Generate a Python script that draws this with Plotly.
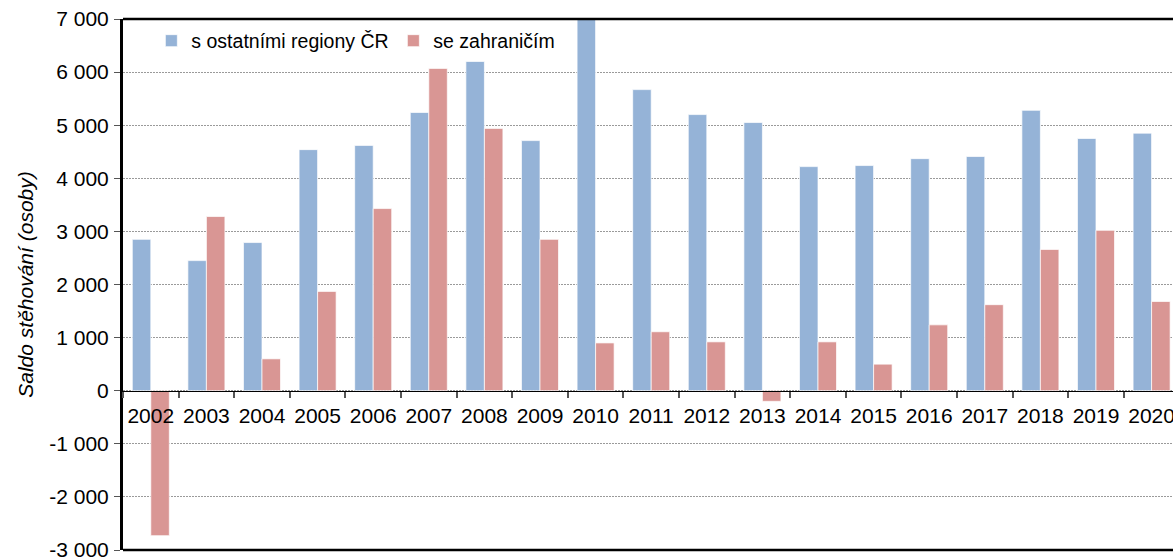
import plotly.graph_objects as go

years = ["2002", "2003", "2004", "2005", "2006", "2007", "2008", "2009", "2010", "2011",
         "2012", "2013", "2014", "2015", "2016", "2017", "2018", "2019", "2020"]
regions = [2850, 2450, 2790, 4540, 4620, 5240, 6200, 4710, 7050, 5670,
           5200, 5050, 4220, 4240, 4370, 4410, 5280, 4750, 4850]
abroad = [-2730, 3280, 600, 1870, 3430, 6070, 4940, 2850, 900, 1110,
          920, -200, 920, 500, 1240, 1620, 2660, 3020, 1680]
ytick_vals = [7000, 6000, 5000, 4000, 3000, 2000, 1000, 0, -1000, -2000, -3000]
ytick_text = ["7 000", "6 000", "5 000", "4 000", "3 000", "2 000", "1 000", "0",
              "-1 000", "-2 000", "-3 000"]

FONT = "Liberation Sans, Arial, sans-serif"

fig = go.Figure()
fig.add_trace(go.Bar(x=years, y=regions, name="s ostatními regiony ČR",
                     marker=dict(color="#95B3D7", line=dict(color="rgba(255,255,255,0.7)", width=1))))
fig.add_trace(go.Bar(x=years, y=abroad, name="se zahraničím",
                     marker=dict(color="#D99694", line=dict(color="rgba(255,255,255,0.7)", width=1))))

fig.update_layout(
    width=1173, height=558, autosize=False,
    margin=dict(l=123, r=0, t=19, b=8, pad=0),
    paper_bgcolor="white", plot_bgcolor="white",
    font=dict(family=FONT, size=21, color="black"),
    barmode="group", bargap=0.334, bargroupgap=0,
    showlegend=True,
    legend=dict(orientation="h", x=0.027, y=0.9586, xanchor="left", yanchor="middle",
                font=dict(size=19.5), bgcolor="rgba(0,0,0,0)", entrywidth=197,
                itemwidth=30, traceorder="normal"),
    xaxis=dict(type="category", range=[-0.5, 18.385], anchor="free", position=0.3,
               showline=True, linecolor="black", linewidth=1, automargin=False,
               ticks="outside", tickson="boundaries", ticklen=6, tickcolor="#555", tickwidth=1.5,
               showgrid=False, tickfont=dict(size=21), ticklabelstandoff=6, tickangle=0,
               ticklabeloverflow="allow"),
    yaxis=dict(range=[-3000, 7000], domain=[0, 1], tickvals=ytick_vals, ticktext=ytick_text,
               showline=True, linecolor="black", linewidth=3, automargin=False,
               ticks="outside", ticklen=6, tickcolor="#555", tickwidth=1,
               showgrid=True, gridcolor="#9a9a9a", gridwidth=1, griddash="2px,1px",
               zeroline=False, tickfont=dict(size=21), ticklabelstandoff=1,
               ticklabeloverflow="allow",
               title=dict(text="<i>Saldo stěhování (osoby)</i>", font=dict(size=21), standoff=10)),
)

fig.add_shape(type="line", xref="paper", yref="paper", x0=0, x1=1, y0=1, y1=1,
              line=dict(color="black", width=2.5))
fig.add_shape(type="line", xref="paper", yref="paper", x0=0, x1=1, y0=0, y1=0,
              line=dict(color="black", width=2.5))

# remove the browser's default 8px body margin so the figure fills the window
fig.write_html("out.html", config={"displayModeBar": False},
               post_script="document.body.style.margin='0';")
